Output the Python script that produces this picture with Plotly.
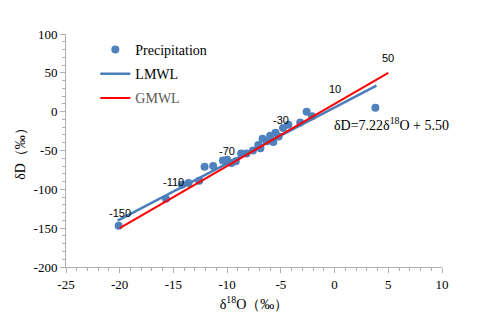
import plotly.graph_objects as go

# Precipitation isotope samples (δ18O, δD in ‰)
precip_d18o = [-20.1, -15.7, -14.2, -13.6, -12.6, -12.1, -11.3, -10.4, -10.0, -9.6,
               -9.2, -8.7, -8.2, -7.6, -7.1, -6.9, -6.7, -6.3, -6.0, -5.7,
               -5.5, -5.2, -4.8, -4.3, -3.2, -2.6, -2.1, 3.8]
precip_dd = [-147, -112, -94, -92, -89, -71, -70, -63, -62, -66,
             -64, -54, -54, -50, -43, -47, -35, -38, -31, -39,
             -27, -32, -21, -17, -14, 0, -6, 5]

# Global meteoric water line, labelled points
gmwl_d18o = [-20, -15, -10, -5, 0, 5]
gmwl_dd = [-150, -110, -70, -30, 10, 50]

# Local meteoric water line: δD = 7.22 δ18O + 5.50
lmwl_slope = 7.22
lmwl_intercept = 5.50
lmwl_range = [-20.2, 3.9]
lmwl_dd = [lmwl_slope * x + lmwl_intercept for x in lmwl_range]

# Axis ticks
x_ticks = [-25, -20, -15, -10, -5, 0, 5, 10]
y_ticks = [-200, -150, -100, -50, 0, 50, 100]

serif = "Liberation Serif"

fig = go.Figure()
fig.add_trace(go.Scatter(
    x=precip_d18o, y=precip_dd, mode="markers", name="Precipitation",
    legendgroup="p", marker=dict(color="#4f81bd", size=8)))
fig.add_trace(go.Scatter(
    x=lmwl_range, y=lmwl_dd, mode="lines", name="LMWL", legendgroup="l",
    line=dict(color="#4a7ebb", width=2.5)))
fig.add_trace(go.Scatter(
    x=gmwl_d18o, y=gmwl_dd, mode="lines", legendgroup="g",
    name="<span style='color:#595959'>GMWL</span>",
    line=dict(color="#ff0000", width=2)))

# Value labels above the GMWL points
for gx, gy in zip(gmwl_d18o, gmwl_dd):
    fig.add_annotation(x=gx, y=gy, text=str(gy), showarrow=False, yshift=15,
                       font=dict(family="Liberation Sans", size=11, color="#000000"))

fig.add_annotation(
    x=-0.2, y=-16, xanchor="left", yanchor="middle", showarrow=False,
    text=f"δD={lmwl_slope:.2f}δ<sup>18</sup>O + {lmwl_intercept:.2f}",
    font=dict(family=serif, size=14, color="#000000"))

axis_common = dict(
    showgrid=False, zeroline=False, showline=True, linecolor="#b0b0b0", linewidth=1,
    ticks="outside", ticklen=5, tickcolor="#b0b0b0",
    tickfont=dict(family=serif, size=13, color="#000000"),
)

fig.update_xaxes(
    range=[-25, 10], tickvals=x_ticks, ticktext=[str(v) for v in x_ticks],
    minor=dict(dtick=1, tick0=0, ticks="outside", ticklen=3, tickcolor="#b0b0b0"),
    title=dict(text="δ<sup>18</sup>O（‰）", font=dict(family=serif, size=14, color="#000000"),
               standoff=8),
    **axis_common)
fig.update_yaxes(
    range=[-200, 100], tickvals=y_ticks, ticktext=[str(v) for v in y_ticks],
    minor=dict(dtick=10, tick0=0, ticks="outside", ticklen=3, tickcolor="#b0b0b0"),
    title=dict(text="δD（‰）", font=dict(family=serif, size=14, color="#000000"),
               standoff=4),
    **axis_common)

fig.update_layout(
    width=484, height=321,
    margin=dict(l=66, r=42, t=34, b=54),
    paper_bgcolor="white", plot_bgcolor="white",
    showlegend=True,
    legend=dict(x=0.078, y=1.0, xanchor="left", yanchor="top",
                bgcolor="rgba(0,0,0,0)", traceorder="grouped",
                font=dict(family=serif, size=14, color="#000000"),
                itemwidth=30, tracegroupgap=3),
)

fig.write_html("out.html")
